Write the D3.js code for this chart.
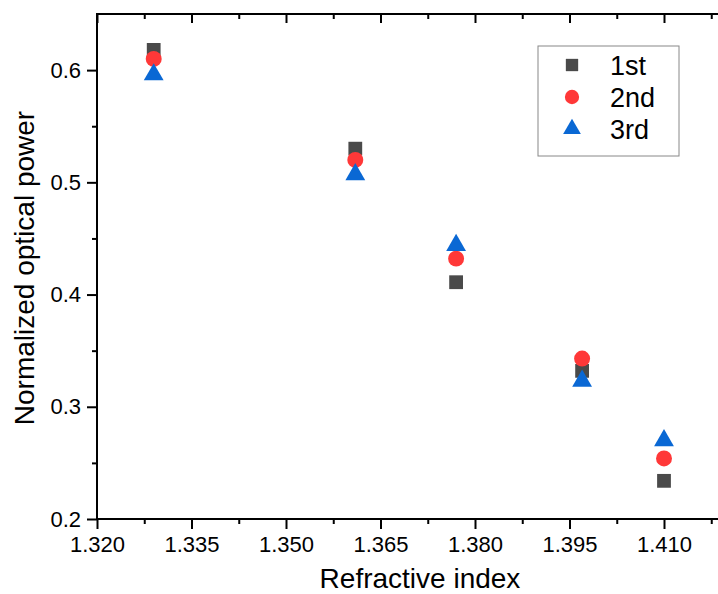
<!DOCTYPE html>
<html>
<head>
<meta charset="utf-8">
<script src="https://cdn.jsdelivr.net/npm/d3@7"></script>
<style>
  body { margin: 0; background: #fff; }
  text { font-family: "Liberation Sans", Arial, sans-serif; fill: #000; }
</style>
</head>
<body>
<svg id="chart" width="718" height="594"></svg>
<script>
// refractive index of each sample
var refIndex = [1.329, 1.361, 1.377, 1.397, 1.410];
// normalized optical power, three measurements
var run1 = [0.618, 0.530, 0.411, 0.332, 0.234];
var run2 = [0.610, 0.520, 0.432, 0.343, 0.254];
var run3 = [0.596, 0.507, 0.444, 0.323, 0.270];
var seriesNames = ["1st", "2nd", "3rd"];
var xTicks = [1.320, 1.335, 1.350, 1.365, 1.380, 1.395, 1.410];
var yTicks = [0.2, 0.3, 0.4, 0.5, 0.6];

var margin = {top: 14, left: 97, bottom: 75},
    width = 630,
    height = 594 - margin.top - margin.bottom;

var svg = d3.select("#chart");
var g = svg.append("g").attr("transform", "translate(" + margin.left + "," + margin.top + ")");

var x = d3.scaleLinear().domain([1.32, 1.42]).range([0, width]);
var y = d3.scaleLinear().domain([0.2, 0.65]).range([height, 0]);

var xMinor = d3.range(1.3275, 1.42, 0.015);
var yMinor = d3.range(0.25, 0.65, 0.1);

// bottom axis
g.append("g").attr("transform", "translate(0," + height + ")")
    .call(d3.axisBottom(x).tickValues(xTicks).tickFormat(d3.format(".3f")).tickSize(10).tickPadding(7));
g.append("g").attr("transform", "translate(0," + height + ")")
    .call(d3.axisBottom(x).tickValues(xMinor).tickFormat("").tickSize(5));

// left axis
g.append("g")
    .call(d3.axisLeft(y).tickValues(yTicks).tickFormat(d3.format(".1f")).tickSize(10).tickPadding(6));
g.append("g")
    .call(d3.axisLeft(y).tickValues(yMinor).tickFormat("").tickSize(5));

// top and right: inward ticks
g.append("g").call(d3.axisTop(x).tickValues(xTicks).tickFormat("").tickSize(-9));
g.append("g").call(d3.axisTop(x).tickValues(xMinor).tickFormat("").tickSize(-5));
g.append("g").attr("transform", "translate(" + width + ",0)")
    .call(d3.axisRight(y).tickValues(yTicks).tickFormat("").tickSize(-9));
g.append("g").attr("transform", "translate(" + width + ",0)")
    .call(d3.axisRight(y).tickValues(yMinor).tickFormat("").tickSize(-5));

g.selectAll(".domain").remove();
g.selectAll(".tick line").attr("stroke", "#000").attr("stroke-width", 2);
g.selectAll(".tick text").style("font-size", "22px").style("font-family", "Liberation Sans, Arial, sans-serif");

// frame
g.append("rect").attr("width", width).attr("height", height)
    .attr("fill", "none").attr("stroke", "#000").attr("stroke-width", 2);

// axis titles
svg.append("text")
    .attr("x", 420).attr("y", 588)
    .attr("text-anchor", "middle")
    .style("font-size", "28px")
    .text("Refractive index");
svg.append("text")
    .attr("transform", "translate(34,268) rotate(-90)")
    .attr("text-anchor", "middle")
    .style("font-size", "28px")
    .text("Normalized optical power");

var colors = ["#4a4a4a", "#ff3838", "#0a68d4"];
var symbols = [d3.symbolSquare, d3.symbolCircle, d3.symbolTriangle];
var sizes = [190, 200, 170];
var allRuns = [run1, run2, run3];

allRuns.forEach(function(run, k) {
  g.append("g").selectAll("path")
      .data(run)
    .enter().append("path")
      .attr("transform", function(d, i) { return "translate(" + x(refIndex[i]) + "," + y(d) + ")"; })
      .attr("d", d3.symbol().type(symbols[k]).size(sizes[k]))
      .attr("fill", colors[k]);
});

// legend
var legend = svg.append("g").attr("transform", "translate(538,46)");
legend.append("rect").attr("width", 141).attr("height", 110)
    .attr("fill", "#fff").attr("stroke", "#888").attr("stroke-width", 1);
seriesNames.forEach(function(name, k) {
  var ly = 19 + k * 32;
  legend.append("path")
      .attr("transform", "translate(34," + ly + ")")
      .attr("d", d3.symbol().type(symbols[k]).size(sizes[k] * 0.8))
      .attr("fill", colors[k]);
  legend.append("text")
      .attr("x", 72).attr("y", ly + 10)
      .style("font-size", "27px")
      .text(name);
});
</script>
</body>
</html>
